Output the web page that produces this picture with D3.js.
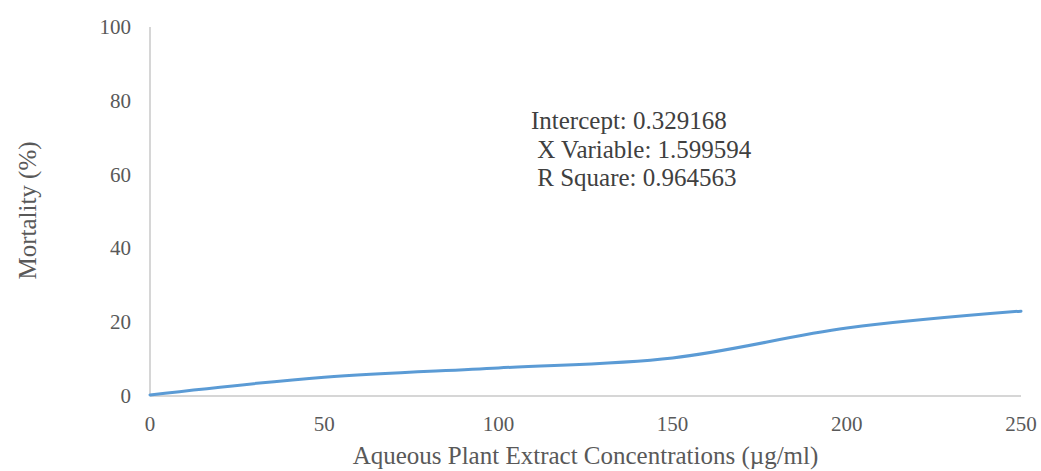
<!DOCTYPE html>
<html>
<head>
<meta charset="utf-8">
<script src="https://cdn.jsdelivr.net/npm/d3@7"></script>
<style>
  body { margin: 0; background: #fff; }
  text { font-family: "Liberation Serif", "Times New Roman", serif; }
</style>
</head>
<body>
<svg id="chart" width="1041" height="471"></svg>
<script>
var concentrations = [0, 50, 100, 150, 200, 250];
var mortality = [0.3, 5.1, 7.6, 10.3, 18.4, 23.0];
var xTicks = [0, 50, 100, 150, 200, 250];
var yTicks = [0, 20, 40, 60, 80, 100];
var regressionText = ['Intercept: 0.329168', ' X Variable: 1.599594', ' R Square: 0.964563'];

var svg = d3.select('#chart');
var margin = { left: 150, right: 20, top: 27, bottom: 75 };
var width = 1041, height = 471;

var x = d3.scaleLinear().domain([0, 250]).range([margin.left, width - margin.right]);
var y = d3.scaleLinear().domain([0, 100]).range([height - margin.bottom, margin.top]);

// axis lines
svg.append('line')
  .attr('x1', x(0)).attr('x2', x(0))
  .attr('y1', y(0)).attr('y2', y(100))
  .attr('stroke', '#c8c8c8').attr('stroke-width', 1.5);
svg.append('line')
  .attr('x1', x(0)).attr('x2', x(250))
  .attr('y1', y(0)).attr('y2', y(0))
  .attr('stroke', '#c8c8c8').attr('stroke-width', 1.5);

// tick labels
svg.selectAll('.ytick').data(yTicks).enter().append('text')
  .attr('x', x(0) - 19)
  .attr('y', function(d) { return y(d); })
  .attr('dy', '0.33em')
  .attr('text-anchor', 'end')
  .attr('font-size', 21)
  .attr('fill', '#595959')
  .text(function(d) { return d; });

svg.selectAll('.xtick').data(xTicks).enter().append('text')
  .attr('x', function(d) { return x(d); })
  .attr('y', y(0) + 28)
  .attr('dy', '0.35em')
  .attr('text-anchor', 'middle')
  .attr('font-size', 21)
  .attr('fill', '#595959')
  .text(function(d) { return d; });

// axis titles
svg.append('text')
  .attr('x', (x(0) + x(250)) / 2)
  .attr('y', 464)
  .attr('text-anchor', 'middle')
  .attr('font-size', 25)
  .attr('fill', '#595959')
  .text('Aqueous Plant Extract Concentrations (µg/ml)');

svg.append('text')
  .attr('transform', 'translate(27,' + ((y(0) + y(100)) / 2 - 1) + ') rotate(-90)')
  .attr('dy', '0.35em')
  .attr('text-anchor', 'middle')
  .attr('font-size', 25)
  .attr('fill', '#595959')
  .text('Mortality (%)');

// line
var line = d3.line()
  .x(function(d, i) { return x(concentrations[i]); })
  .y(function(d) { return y(d); })
  .curve(d3.curveCatmullRom.alpha(0.5));

svg.append('path')
  .datum(mortality)
  .attr('fill', 'none')
  .attr('stroke', '#5b9bd5')
  .attr('stroke-width', 3)
  .attr('stroke-linecap', 'round')
  .attr('d', line);

// regression annotation
svg.append('text')
  .attr('x', 531)
  .attr('y', 129)
  .attr('font-size', 25)
  .attr('fill', '#404040')
  .attr('xml:space', 'preserve')
  .style('white-space', 'pre')
  .selectAll('tspan').data(regressionText).enter().append('tspan')
  .attr('x', 531)
  .attr('dy', function(d, i) { return i === 0 ? 0 : 28.5; })
  .text(function(d) { return d; });
</script>
</body>
</html>
